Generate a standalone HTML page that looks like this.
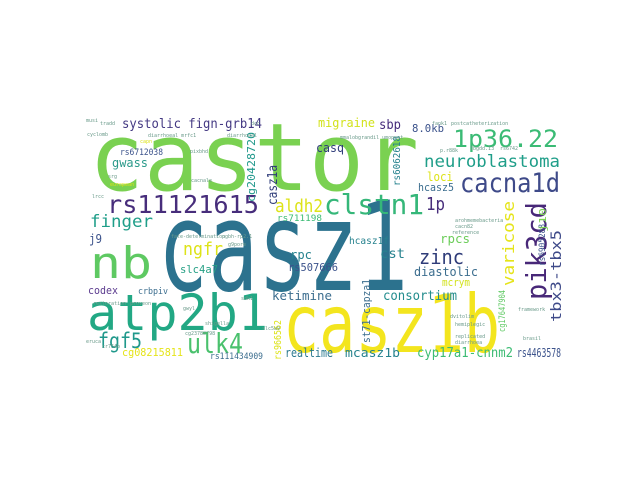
<!DOCTYPE html>
<html><head><meta charset="utf-8"><style>
html,body{margin:0;padding:0;background:#fff;width:640px;height:480px;overflow:hidden}
svg text{font-family:"DejaVu Sans Mono","Liberation Mono",monospace}
</style></head><body>
<svg width="640" height="480" viewBox="0 0 640 480" xmlns="http://www.w3.org/2000/svg">
<g>
<text x="89" y="190" font-size="94" fill="#7ad151" textLength="330" lengthAdjust="spacingAndGlyphs">castor</text>
<text x="158" y="290" font-size="124" fill="#2c728e" textLength="250" lengthAdjust="spacingAndGlyphs">casz1</text>
<text x="283" y="352" font-size="80" fill="#f3e51e" textLength="217" lengthAdjust="spacingAndGlyphs">casz1b</text>
<text x="87" y="330" font-size="50" fill="#22a884" textLength="181" lengthAdjust="spacingAndGlyphs">atp2b1</text>
<text x="90" y="278" font-size="44" fill="#5ec962" textLength="62" lengthAdjust="spacingAndGlyphs">nb</text>
<text x="107" y="213" font-size="25" fill="#472d7b" textLength="152" lengthAdjust="spacingAndGlyphs">rs11121615</text>
<text x="453" y="147" font-size="24" fill="#3bbb75" textLength="105" lengthAdjust="spacingAndGlyphs">1p36.22</text>
<text x="460" y="192" font-size="27" fill="#3e4a89" textLength="100" lengthAdjust="spacingAndGlyphs">cacna1d</text>
<text x="424" y="167" font-size="17" fill="#1f9e89" textLength="136" lengthAdjust="spacingAndGlyphs">neuroblastoma</text>
<text x="324" y="214" font-size="28" fill="#35b779" textLength="100" lengthAdjust="spacingAndGlyphs">clstn1</text>
<text x="275" y="212" font-size="18" fill="#dde318" textLength="48" lengthAdjust="spacingAndGlyphs">aldh2</text>
<text x="187" y="353" font-size="28" fill="#4ac16d" textLength="56" lengthAdjust="spacingAndGlyphs">ulk4</text>
<text x="98" y="348" font-size="21" fill="#1f988b" textLength="44" lengthAdjust="spacingAndGlyphs">fgf5</text>
<text x="90" y="227" font-size="17" fill="#1f9e89" textLength="63" lengthAdjust="spacingAndGlyphs">finger</text>
<text x="122" y="128" font-size="13" fill="#443983" textLength="140" lengthAdjust="spacingAndGlyphs">systolic fign-grb14</text>
<text x="112" y="167" font-size="12" fill="#2a9a8a" textLength="36" lengthAdjust="spacingAndGlyphs">gwass</text>
<text x="120" y="155" font-size="9" fill="#3b528b" textLength="43" lengthAdjust="spacingAndGlyphs">rs6712038</text>
<text x="183" y="255" font-size="18" fill="#dde318" textLength="40" lengthAdjust="spacingAndGlyphs">ngfr</text>
<text x="272" y="300" font-size="12" fill="#3b6d8e" textLength="60" lengthAdjust="spacingAndGlyphs">ketimine</text>
<text x="285" y="357" font-size="12" fill="#2a788e" textLength="48" lengthAdjust="spacingAndGlyphs">realtime</text>
<text x="345" y="357" font-size="12" fill="#26828e" textLength="55" lengthAdjust="spacingAndGlyphs">mcasz1b</text>
<text x="417" y="357" font-size="13" fill="#3dbc74" textLength="96" lengthAdjust="spacingAndGlyphs">cyp17a1-cnnm2</text>
<text x="517" y="357" font-size="12" fill="#3b528b" textLength="44" lengthAdjust="spacingAndGlyphs">rs4463578</text>
<text x="383" y="300" font-size="13" fill="#228c8d" textLength="74" lengthAdjust="spacingAndGlyphs">consortium</text>
<text x="419" y="264" font-size="20" fill="#2f3c79" textLength="45" lengthAdjust="spacingAndGlyphs">zinc</text>
<text x="414" y="276" font-size="12" fill="#3b6d8e" textLength="64" lengthAdjust="spacingAndGlyphs">diastolic</text>
<text x="442" y="286" font-size="11" fill="#d2e21b" textLength="28" lengthAdjust="spacingAndGlyphs">mcrym</text>
<text x="380" y="258" font-size="13" fill="#26828e" textLength="25" lengthAdjust="spacingAndGlyphs">cst</text>
<text x="440" y="243" font-size="12" fill="#6ccd5a" textLength="30" lengthAdjust="spacingAndGlyphs">rpcs</text>
<text x="290" y="259" font-size="12" fill="#26828e" textLength="22" lengthAdjust="spacingAndGlyphs">rpc</text>
<text x="288" y="271" font-size="11" fill="#3b528b" textLength="50" lengthAdjust="spacingAndGlyphs">rs507666</text>
<text x="180" y="273" font-size="11" fill="#26a085" textLength="38" lengthAdjust="spacingAndGlyphs">slc4a7</text>
<text x="88" y="294" font-size="11" fill="#5c3c8f" textLength="30" lengthAdjust="spacingAndGlyphs">codex</text>
<text x="138" y="294" font-size="9" fill="#3b6d8e" textLength="30" lengthAdjust="spacingAndGlyphs">crbpiv</text>
<text x="122" y="356" font-size="11" fill="#e5e419" textLength="61" lengthAdjust="spacingAndGlyphs">cg08215811</text>
<text x="210" y="359" font-size="9" fill="#3b6d8e" textLength="53" lengthAdjust="spacingAndGlyphs">rs111434909</text>
<text x="318" y="127" font-size="12" fill="#d2e21b" textLength="57" lengthAdjust="spacingAndGlyphs">migraine</text>
<text x="379" y="129" font-size="13" fill="#472d7b" textLength="22" lengthAdjust="spacingAndGlyphs">sbp</text>
<text x="412" y="132" font-size="11" fill="#3b528b" textLength="32" lengthAdjust="spacingAndGlyphs">8.0kb</text>
<text x="316" y="152" font-size="12" fill="#2f3c79" textLength="28" lengthAdjust="spacingAndGlyphs">casq</text>
<text x="427" y="181" font-size="12" fill="#dde318" textLength="26" lengthAdjust="spacingAndGlyphs">loci</text>
<text x="418" y="191" font-size="11" fill="#3b6d8e" textLength="36" lengthAdjust="spacingAndGlyphs">hcasz5</text>
<text x="426" y="210" font-size="18" fill="#472d7b" textLength="19" lengthAdjust="spacingAndGlyphs">1p</text>
<text x="89" y="243" font-size="12" fill="#3b528b" textLength="13" lengthAdjust="spacingAndGlyphs">j9</text>
<text x="277" y="221" font-size="9" fill="#3bbb75" textLength="45" lengthAdjust="spacingAndGlyphs">rs711198</text>
<text x="349" y="244" font-size="10" fill="#26828e" textLength="40" lengthAdjust="spacingAndGlyphs">hcasz1f</text>
<text transform="translate(546,300) rotate(-90)" font-size="28" fill="#482878" textLength="98" lengthAdjust="spacingAndGlyphs">pik3cd</text>
<text transform="translate(514,286) rotate(-90)" font-size="16" fill="#e5e419" textLength="85" lengthAdjust="spacingAndGlyphs">varicose</text>
<text transform="translate(561,322) rotate(-90)" font-size="14" fill="#3e4a89" textLength="92" lengthAdjust="spacingAndGlyphs">tbx3-tbx5</text>
<text transform="translate(545,266) rotate(-90)" font-size="9" fill="#3b528b" textLength="42" lengthAdjust="spacingAndGlyphs">rs6905288</text>
<text transform="translate(546,232) rotate(-90)" font-size="10" fill="#7ad151" textLength="24" lengthAdjust="spacingAndGlyphs">j10</text>
<text transform="translate(277,205) rotate(-90)" font-size="13" fill="#2f3c79" textLength="40" lengthAdjust="spacingAndGlyphs">casz1a</text>
<text transform="translate(255,202) rotate(-90)" font-size="11" fill="#1f988b" textLength="70" lengthAdjust="spacingAndGlyphs">cg20428720</text>
<text transform="translate(400,186) rotate(-90)" font-size="10" fill="#26828e" textLength="50" lengthAdjust="spacingAndGlyphs">rs6062618</text>
<text transform="translate(370,343) rotate(-90)" font-size="11" fill="#3b6d8e" textLength="64" lengthAdjust="spacingAndGlyphs">st71-capza1</text>
<text transform="translate(505,332) rotate(-90)" font-size="9" fill="#5ec962" textLength="42" lengthAdjust="spacingAndGlyphs">cg17647904</text>
<text transform="translate(281,360) rotate(-90)" font-size="10" fill="#dde318" textLength="40" lengthAdjust="spacingAndGlyphs">rs966562</text>
<g font-size="5" fill="#6a9a8a">
<text x="86" y="122">musi</text><text x="100" y="125">tradd</text><text x="87" y="136">cyclomb</text>
<text x="148" y="137">diarrhoeal mrfc1</text><text x="227" y="137">diarrhoeal</text><text x="251" y="125">dcc</text>
<text x="140" y="143" fill="#dde318">capn</text><text x="190" y="153">pixbhd</text><text x="108" y="178">srg</text>
<text x="110" y="186" fill="#dde318">european</text><text x="191" y="182">cacnale</text><text x="92" y="198">lrcc</text>
<text x="171" y="238">fate-determination</text><text x="222" y="238">pgbh-rp2.1</text><text x="228" y="246">g9pore</text>
<text x="432" y="125">fank1</text><text x="451" y="125">postcatheterization</text>
<text x="340" y="139">mmalobgrandil umoppat</text><text x="440" y="152">p.r88k</text>
<text x="500" y="150">rs6742</text><text x="470" y="150">lbgdd.13</text>
<text x="455" y="222">arohmemebacteria</text><text x="455" y="228">cacn82</text><text x="452" y="234">reference</text>
<text x="450" y="318">dvitolim</text><text x="455" y="326">hemiplegic</text>
<text x="455" y="338">replicated</text><text x="455" y="344">diarrhoea</text><text x="518" y="311">framework</text>
<text x="523" y="340">brasil</text><text x="93" y="305">restoration</text><text x="130" y="305">proveon</text>
<text x="183" y="310">gwyl</text><text x="205" y="325">shigella</text><text x="185" y="335">cg23788798</text>
<text x="86" y="343">eruca</text><text x="102" y="348">cr754b</text>
<text x="241" y="300">sdk1</text><text x="262" y="330">slc5a9</text>
</g>
</g>
</svg>
</body></html>
